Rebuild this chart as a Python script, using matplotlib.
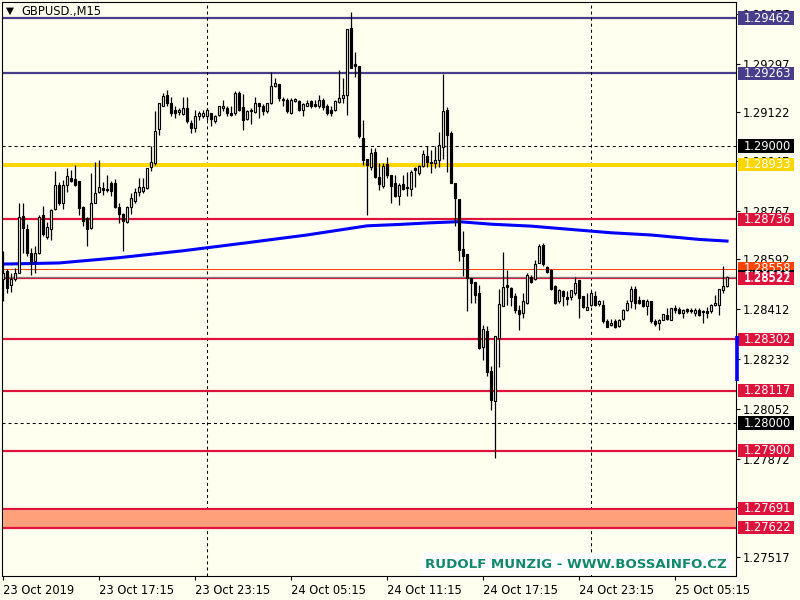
import matplotlib
matplotlib.use("Agg")
import matplotlib.pyplot as plt
import matplotlib.transforms as mtransforms
from matplotlib.patches import Rectangle

plt.rcParams['font.family'] = ['DejaVu Sans']

# GBPUSD M15 candles, 23 Oct 11:15 onwards
opens = [
    1.28521, 1.28549, 1.28497, 1.28519, 1.28543, 1.28747, 1.28701, 1.28613, 1.28585, 1.28613,
    1.28752, 1.28673, 1.28699, 1.28773, 1.28860, 1.28793, 1.28860, 1.28885, 1.28881, 1.28873,
    1.28781, 1.28741, 1.28705, 1.28795, 1.28833, 1.28849, 1.28845, 1.28865, 1.28865, 1.28781,
    1.28753, 1.28725, 1.28781, 1.28803, 1.28833, 1.28837, 1.28849, 1.28925, 1.28939, 1.29061,
    1.29145, 1.29183, 1.29155, 1.29131, 1.29123, 1.29117, 1.29137, 1.29083, 1.29065, 1.29107,
    1.29107, 1.29107, 1.29119, 1.29089, 1.29112, 1.29137, 1.29137, 1.29119, 1.29119, 1.29191,
    1.29141, 1.29097, 1.29125, 1.29123, 1.29155, 1.29145, 1.29125, 1.29155, 1.29215, 1.29225,
    1.29171, 1.29167, 1.29119, 1.29161, 1.29161, 1.29129, 1.29145, 1.29161, 1.29151, 1.29143,
    1.29165, 1.29143, 1.29131, 1.29129, 1.29159, 1.29173, 1.29185, 1.29425, 1.29297, 1.29289,
    1.29029, 1.28954, 1.28926, 1.28978, 1.28888, 1.28856, 1.28936, 1.28896, 1.28866, 1.28820,
    1.28864, 1.28854, 1.28844, 1.28920, 1.28902, 1.28928, 1.28964, 1.28944, 1.28940, 1.28950,
    1.28998, 1.29130, 1.29048, 1.28866, 1.28808, 1.28628, 1.28612, 1.28522, 1.28508, 1.28469,
    1.28275, 1.28331, 1.28187, 1.28079, 1.28307, 1.28423, 1.28499, 1.28487, 1.28459, 1.28407,
    1.28399, 1.28433, 1.28527, 1.28519, 1.28579, 1.28643, 1.28563, 1.28553, 1.28495, 1.28439,
    1.28477, 1.28455, 1.28455, 1.28469, 1.28515, 1.28459, 1.28409, 1.28427, 1.28459, 1.28431,
    1.28427, 1.28367, 1.28353, 1.28367, 1.28349, 1.28375, 1.28407, 1.28439, 1.28483, 1.28443,
    1.28445, 1.28423, 1.28439, 1.28367, 1.28361, 1.28373, 1.28391, 1.28373, 1.28415, 1.28411,
    1.28397, 1.28411, 1.28409, 1.28399, 1.28407, 1.28404, 1.28405, 1.28403, 1.28425, 1.28427,
    1.28481, 1.28495,
]
highs = [
    1.28621, 1.28555, 1.28543, 1.28561, 1.28793, 1.28793, 1.28717, 1.28633, 1.28639, 1.28751,
    1.28785, 1.28725, 1.28773, 1.28909, 1.28869, 1.28879, 1.28921, 1.28915, 1.28933, 1.28873,
    1.28783, 1.28745, 1.28901, 1.28941, 1.28951, 1.28869, 1.28897, 1.28873, 1.28881, 1.28793,
    1.28759, 1.28785, 1.28831, 1.28849, 1.28885, 1.28885, 1.28921, 1.28999, 1.29125, 1.29155,
    1.29191, 1.29203, 1.29177, 1.29143, 1.29137, 1.29177, 1.29177, 1.29095, 1.29131, 1.29125,
    1.29131, 1.29137, 1.29119, 1.29113, 1.29145, 1.29167, 1.29145, 1.29143, 1.29197, 1.29197,
    1.29187, 1.29131, 1.29137, 1.29177, 1.29157, 1.29153, 1.29157, 1.29269, 1.29245, 1.29225,
    1.29177, 1.29173, 1.29173, 1.29175, 1.29167, 1.29157, 1.29167, 1.29167, 1.29167, 1.29185,
    1.29173, 1.29153, 1.29145, 1.29165, 1.29275, 1.29245, 1.29421, 1.29485, 1.29341, 1.29289,
    1.29093, 1.28954, 1.28992, 1.28992, 1.28938, 1.28938, 1.28960, 1.28896, 1.28896, 1.28868,
    1.28896, 1.28908, 1.28912, 1.28924, 1.28932, 1.28986, 1.29000, 1.28984, 1.29000, 1.29052,
    1.29260, 1.29142, 1.29056, 1.28866, 1.28808, 1.28692, 1.28612, 1.28522, 1.28510, 1.28499,
    1.28355, 1.28349, 1.28207, 1.28313, 1.28483, 1.28619, 1.28553, 1.28491, 1.28469, 1.28427,
    1.28469, 1.28543, 1.28535, 1.28589, 1.28647, 1.28649, 1.28567, 1.28555, 1.28499, 1.28483,
    1.28479, 1.28475, 1.28481, 1.28529, 1.28515, 1.28459, 1.28471, 1.28475, 1.28475, 1.28443,
    1.28443, 1.28375, 1.28375, 1.28375, 1.28375, 1.28411, 1.28443, 1.28495, 1.28495, 1.28459,
    1.28445, 1.28447, 1.28439, 1.28375, 1.28375, 1.28395, 1.28415, 1.28415, 1.28427, 1.28419,
    1.28411, 1.28415, 1.28415, 1.28415, 1.28415, 1.28407, 1.28419, 1.28431, 1.28463, 1.28483,
    1.28567, 1.28531,
]
lows = [
    1.28441, 1.28471, 1.28473, 1.28513, 1.28541, 1.28615, 1.28603, 1.28533, 1.28541, 1.28609,
    1.28675, 1.28663, 1.28661, 1.28769, 1.28789, 1.28773, 1.28833, 1.28869, 1.28855, 1.28751,
    1.28711, 1.28639, 1.28701, 1.28793, 1.28831, 1.28825, 1.28833, 1.28819, 1.28777, 1.28721,
    1.28621, 1.28721, 1.28753, 1.28795, 1.28819, 1.28831, 1.28845, 1.28909, 1.28933, 1.29041,
    1.29143, 1.29145, 1.29107, 1.29101, 1.29113, 1.29113, 1.29085, 1.29047, 1.29051, 1.29095,
    1.29103, 1.29095, 1.29073, 1.29085, 1.29107, 1.29125, 1.29109, 1.29109, 1.29113, 1.29125,
    1.29057, 1.29093, 1.29081, 1.29119, 1.29103, 1.29113, 1.29121, 1.29153, 1.29213, 1.29161,
    1.29143, 1.29121, 1.29117, 1.29159, 1.29125, 1.29109, 1.29143, 1.29137, 1.29141, 1.29137,
    1.29131, 1.29113, 1.29107, 1.29125, 1.29157, 1.29155, 1.29113, 1.29281, 1.29249, 1.29029,
    1.28933, 1.28752, 1.28912, 1.28884, 1.28842, 1.28848, 1.28884, 1.28796, 1.28816, 1.28786,
    1.28840, 1.28820, 1.28818, 1.28852, 1.28896, 1.28926, 1.28924, 1.28904, 1.28920, 1.28926,
    1.28952, 1.28908, 1.28868, 1.28712, 1.28584, 1.28532, 1.28404, 1.28432, 1.28433, 1.28267,
    1.28227, 1.28169, 1.28047, 1.27875, 1.28203, 1.28421, 1.28427, 1.28423, 1.28399, 1.28335,
    1.28379, 1.28431, 1.28507, 1.28517, 1.28577, 1.28567, 1.28543, 1.28479, 1.28431, 1.28435,
    1.28421, 1.28427, 1.28445, 1.28463, 1.28379, 1.28415, 1.28407, 1.28423, 1.28423, 1.28423,
    1.28363, 1.28347, 1.28351, 1.28343, 1.28347, 1.28373, 1.28403, 1.28415, 1.28411, 1.28431,
    1.28419, 1.28391, 1.28361, 1.28351, 1.28337, 1.28371, 1.28373, 1.28371, 1.28399, 1.28395,
    1.28379, 1.28399, 1.28399, 1.28387, 1.28387, 1.28363, 1.28379, 1.28397, 1.28421, 1.28391,
    1.28471, 1.28493,
]
closes = [
    1.28543, 1.28489, 1.28521, 1.28543, 1.28745, 1.28705, 1.28615, 1.28585, 1.28615, 1.28745,
    1.28681, 1.28709, 1.28769, 1.28858, 1.28795, 1.28858, 1.28891, 1.28873, 1.28860, 1.28777,
    1.28729, 1.28699, 1.28793, 1.28829, 1.28853, 1.28843, 1.28841, 1.28837, 1.28781, 1.28753,
    1.28729, 1.28781, 1.28811, 1.28833, 1.28853, 1.28853, 1.28921, 1.28943, 1.29055, 1.29155,
    1.29179, 1.29155, 1.29119, 1.29121, 1.29131, 1.29137, 1.29089, 1.29065, 1.29109, 1.29119,
    1.29119, 1.29131, 1.29097, 1.29109, 1.29143, 1.29143, 1.29119, 1.29113, 1.29191, 1.29131,
    1.29095, 1.29125, 1.29131, 1.29157, 1.29145, 1.29125, 1.29157, 1.29215, 1.29227, 1.29173,
    1.29169, 1.29125, 1.29167, 1.29171, 1.29129, 1.29153, 1.29157, 1.29143, 1.29145, 1.29165,
    1.29141, 1.29121, 1.29119, 1.29161, 1.29175, 1.29183, 1.29421, 1.29281, 1.29289, 1.29035,
    1.28949, 1.28932, 1.28974, 1.28890, 1.28864, 1.28928, 1.28896, 1.28856, 1.28818, 1.28860,
    1.28846, 1.28848, 1.28908, 1.28912, 1.28928, 1.28970, 1.28944, 1.28938, 1.28950, 1.29004,
    1.29128, 1.29040, 1.28868, 1.28812, 1.28624, 1.28602, 1.28522, 1.28504, 1.28464, 1.28271,
    1.28339, 1.28183, 1.28083, 1.28313, 1.28431, 1.28493, 1.28493, 1.28455, 1.28407, 1.28395,
    1.28439, 1.28535, 1.28511, 1.28575, 1.28639, 1.28575, 1.28547, 1.28483, 1.28435, 1.28479,
    1.28459, 1.28449, 1.28479, 1.28507, 1.28451, 1.28419, 1.28419, 1.28471, 1.28427, 1.28439,
    1.28367, 1.28347, 1.28363, 1.28347, 1.28373, 1.28407, 1.28435, 1.28483, 1.28435, 1.28435,
    1.28421, 1.28439, 1.28367, 1.28359, 1.28373, 1.28395, 1.28375, 1.28415, 1.28407, 1.28399,
    1.28407, 1.28403, 1.28403, 1.28409, 1.28391, 1.28402, 1.28399, 1.28427, 1.28433, 1.28483,
    1.28495, 1.28527,
]

ma_bars = [0, 14, 29, 45, 61, 76, 91, 99, 107, 114, 122, 132, 142, 152, 162, 174, 181]
ma_values = [1.28574, 1.28578, 1.28597, 1.28622, 1.28651, 1.28679, 1.28712, 1.28717, 1.28723,
             1.28727, 1.28718, 1.28711, 1.28699, 1.28687, 1.28679, 1.28663, 1.28657]

# horizontal levels
blue_levels = [1.29462, 1.29263]
round_levels = [1.29000, 1.28000]
gold_level = 1.28933
red_levels = [1.28736, 1.28522, 1.28302, 1.28117, 1.27900]
zone = (1.27622, 1.27691)
orange_level = 1.28558
bid_price = 1.28527
range_bar = (1.28152, 1.28314)

day_breaks = [51, 147]
scale_ticks = [1.29477, 1.29297, 1.29122, 1.28947, 1.28767, 1.28592, 1.28412,
               1.28232, 1.28052, 1.27872, 1.27697, 1.27517]
time_ticks = [0, 24, 48, 72, 96, 120, 144, 168]
time_labels = ["23 Oct 2019", "23 Oct 17:15", "23 Oct 23:15", "24 Oct 05:15",
               "24 Oct 11:15", "24 Oct 17:15", "24 Oct 23:15", "25 Oct 05:15"]

BG = "#FFFFF0"
SLATE = "#483D8B"
CRIMSON = "#DC143C"
GOLD = "#FFD700"
ORANGE = "#FF4500"

fig = plt.figure(figsize=(8, 6), dpi=100, facecolor=BG)
ax = fig.add_axes([2 / 800, 24 / 600, 734 / 800, 574 / 600], facecolor=BG)
ax.set_xlim(-0.25, 183.25)
ax.set_ylim(1.27448, 1.29520)

# levels
for lv in blue_levels:
    ax.axhline(lv, color=SLATE, lw=1.6, zorder=1)
for lv in round_levels:
    ax.axhline(lv, color="black", lw=0.75, ls=(0, (2.9, 2.9)), zorder=1)
for d in day_breaks:
    ax.axvline(d, color="black", lw=0.75, ls=(0, (2.9, 2.9)), zorder=1)
ax.axhline(gold_level, color=GOLD, lw=2.9, zorder=1)
ax.axhspan(zone[0], zone[1], facecolor="#FFA07A", edgecolor="white", lw=1, zorder=1)
for lv in red_levels + list(zone):
    ax.axhline(lv, color=CRIMSON, lw=1.6, zorder=1)
ax.axhline(orange_level, color=ORANGE, lw=0.75, zorder=1)
ax.axhline(bid_price, color="#808080", lw=0.75, zorder=1)

# moving average
ax.plot(ma_bars, ma_values, color="#0000FF", lw=2.2, zorder=2)

# candles
xs = range(len(closes))
ax.vlines(xs, lows, highs, color="black", lw=0.9, zorder=3)
bodies = []
bottoms = []
colors = []
for o, c in zip(opens, closes):
    h = c - o
    if abs(h) < 0.00003:
        h = 0.00003 if h >= 0 else -0.00003
    bodies.append(h)
    bottoms.append(o)
    colors.append(BG if c >= o else "black")
ax.bar(xs, bodies, bottom=bottoms, width=0.62, color=colors, edgecolor="black",
       linewidth=0.85, zorder=4)

# axes styling
for sp in ax.spines.values():
    sp.set_linewidth(0.8)
    sp.set_color("black")
ax.yaxis.tick_right()
ax.set_yticks(scale_ticks)
ax.set_yticklabels([f"{v:.5f}" for v in scale_ticks])
ax.tick_params(axis="y", length=3, width=0.8, pad=2, labelsize=8.3, colors="black")
ax.set_xticks(time_ticks)
ax.set_xticklabels(time_labels, ha="left")
ax.tick_params(axis="x", length=3, width=0.8, pad=3, labelsize=8.3, colors="black")

# price labels on the scale
trans = mtransforms.blended_transform_factory(ax.transAxes, ax.transData)
box_h = 0.00048


def price_label(price, color, text_color="white"):
    ax.add_patch(Rectangle((1.0027, price - box_h / 2), 0.0763, box_h, transform=trans,
                           facecolor=color, edgecolor="none", clip_on=False, zorder=6))
    ax.text(1.0105, price, f"{price:.5f}", transform=trans, color=text_color, fontsize=8.3,
            va="center", ha="left", clip_on=False, zorder=7)


for lv in blue_levels:
    price_label(lv, SLATE)
for lv in round_levels:
    price_label(lv, "black")
price_label(gold_level, GOLD)
price_label(orange_level, ORANGE)
price_label(bid_price, "black")
for lv in red_levels + list(zone):
    price_label(lv, CRIMSON)

ax.plot([1.0007, 1.0007], list(range_bar), transform=trans, color="#0000FF", lw=2.6,
        clip_on=False, zorder=8, solid_capstyle="butt")

# title and watermark
fig.text(10 / 800, 1 - 11 / 600, "\u25BC", fontsize=7.5, ha="center", va="center", color="black")
fig.text(21 / 800, 1 - 12 / 600, "GBPUSD.,M15", fontsize=8.3, ha="left", va="center", color="black")
fig.text(727 / 800, 1 - 564 / 600, "RUDOLF MUNZIG - WWW.BOSSAINFO.CZ", fontsize=9.6,
         fontweight="bold", color="#13896B", ha="right", va="center",
         bbox=dict(boxstyle="square,pad=0.35", facecolor="white", edgecolor="none"))

fig.savefig("out.png", dpi=100, facecolor=BG)
